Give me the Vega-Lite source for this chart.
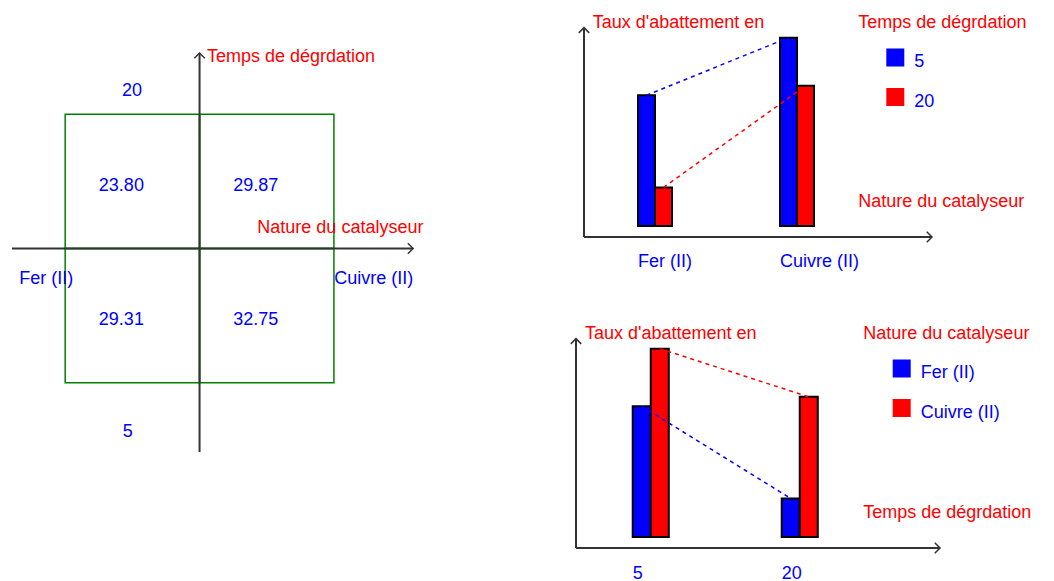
{
  "$schema": "https://vega.github.io/schema/vega-lite/v6.json",
  "background": "white",
  "padding": 0,
  "config": {
    "view": {"stroke": null},
    "font": "Liberation Sans",
    "text": {"font": "Liberation Sans", "fontSize": 18},
    "axisQuantitative": {"disable": true},
    "axis": {
      "domain": false, "ticks": false, "grid": false,
      "labelFont": "Liberation Sans", "labelFontSize": 18, "labelColor": "#0000ff", "labelAngle": 0
    },
    "legend": {
      "orient": "none", "direction": "vertical", "padding": 0,
      "titleFont": "Liberation Sans", "titleFontSize": 18, "titleFontWeight": "normal", "titleColor": "#ff0000", "titleLimit": 400,
      "labelFont": "Liberation Sans", "labelFontSize": 18, "labelColor": "#0000ff", "labelBaseline": "top",
      "symbolType": "square", "symbolSize": 256, "symbolStrokeColor": "black", "symbolStrokeWidth": 2, "symbolOpacity": 1,
      "titlePadding": 16.5, "rowPadding": 13.5, "labelOffset": 10
    }
  },
  "datasets": {
    "essais": [
      {"catalyseur": "Fer (II)", "temps": 5, "taux": 29.31},
      {"catalyseur": "Fer (II)", "temps": 20, "taux": 23.80},
      {"catalyseur": "Cuivre (II)", "temps": 5, "taux": 32.75},
      {"catalyseur": "Cuivre (II)", "temps": 20, "taux": 29.87}
    ]
  },
  "bounds": "flush",
  "spacing": 146,
  "hconcat": [
    {
      "width": 430,
      "height": 470,
      "layer": [
        {
          "data": {"name": "essais"},
          "encoding": {
            "x": {"field": "catalyseur", "type": "nominal", "axis": null,
                  "scale": {"domain": ["Fer (II)", "Cuivre (II)"], "paddingInner": 0, "paddingOuter": 0.6, "align": 0.4042}},
            "y": {"field": "temps", "type": "ordinal", "axis": null,
                  "scale": {"domain": [20, 5], "paddingInner": 0, "paddingOuter": 0.75, "align": 0.5667}}
          },
          "layer": [
            {"mark": {"type": "rect", "filled": false, "stroke": "#008000", "strokeWidth": 1.5}},
            {"mark": {"type": "text", "color": "#0000ff", "baseline": "alphabetic", "dx": -11, "dy": 9.5},
             "encoding": {"text": {"field": "taux", "type": "quantitative", "format": ".2f"}}}
          ]
        },
        {
          "data": {"values": [{}]},
          "layer": [
            {"mark": {"type": "rule", "color": "#333333", "strokeWidth": 2},
             "encoding": {
               "x": {"datum": -1.396, "type": "quantitative", "scale": {"domain": [-1.485, 1.715], "nice": false, "zero": false}},
               "x2": {"datum": 1.589},
               "y": {"datum": 0, "type": "quantitative", "scale": {"domain": [-1.65, 1.85], "nice": false, "zero": false}}
             }},
            {"mark": {"type": "rule", "color": "#333333", "strokeWidth": 2},
             "encoding": {
               "x": {"datum": 0, "type": "quantitative"},
               "y": {"datum": -1.516, "type": "quantitative"},
               "y2": {"datum": 1.455}
             }},
            {"mark": {"type": "point", "shape": "M-1,-1L0,0L-1,1", "size": 110, "filled": false, "color": "#333333", "strokeWidth": 1.5, "opacity": 1},
             "encoding": {"x": {"datum": 1.589, "type": "quantitative"}, "y": {"datum": 0, "type": "quantitative"}}},
            {"mark": {"type": "point", "shape": "M-1,1L0,0L1,1", "size": 110, "filled": false, "color": "#333333", "strokeWidth": 1.5, "opacity": 1},
             "encoding": {"x": {"datum": 0, "type": "quantitative"}, "y": {"datum": 1.455, "type": "quantitative"}}},
            {"mark": {"type": "text", "text": "Temps de dégrdation", "color": "#ff0000", "align": "left", "baseline": "alphabetic"},
             "encoding": {"x": {"datum": 0.0555, "type": "quantitative"}, "y": {"datum": 1.388, "type": "quantitative"}}},
            {"mark": {"type": "text", "text": "20", "color": "#0000ff", "align": "center", "baseline": "alphabetic"},
             "encoding": {"x": {"datum": -0.503, "type": "quantitative"}, "y": {"datum": 1.135, "type": "quantitative"}}},
            {"mark": {"type": "text", "text": "Nature du catalyseur", "color": "#ff0000", "align": "left", "baseline": "alphabetic"},
             "encoding": {"x": {"datum": 0.43, "type": "quantitative"}, "y": {"datum": 0.115, "type": "quantitative"}}},
            {"mark": {"type": "text", "text": "Fer (II)", "color": "#0000ff", "align": "left", "baseline": "alphabetic"},
             "encoding": {"x": {"datum": -1.341, "type": "quantitative"}, "y": {"datum": -0.265, "type": "quantitative"}}},
            {"mark": {"type": "text", "text": "Cuivre (II)", "color": "#0000ff", "align": "left", "baseline": "alphabetic"},
             "encoding": {"x": {"datum": 1.003, "type": "quantitative"}, "y": {"datum": -0.265, "type": "quantitative"}}},
            {"mark": {"type": "text", "text": "5", "color": "#0000ff", "align": "center", "baseline": "alphabetic"},
             "encoding": {"x": {"datum": -0.535, "type": "quantitative"}, "y": {"datum": -1.404, "type": "quantitative"}}}
          ]
        }
      ],
      "resolve": {"scale": {"x": "independent", "y": "independent"}}
    },
    {
      "vconcat": [
        {
          "width": 348,
          "height": 237,
          "layer": [
            {
              "data": {"values": [{}]},
              "layer": [
                {"mark": {"type": "rule", "color": "#333333", "strokeWidth": 2},
                 "encoding": {
                   "x": {"datum": 0, "type": "quantitative", "scale": {"domain": [0, 1], "nice": false, "zero": false}},
                   "y": {"datum": 20.84, "type": "quantitative"},
                   "y2": {"datum": 33.35}
                 }},
                {"mark": {"type": "rule", "color": "#333333", "strokeWidth": 2},
                 "encoding": {
                   "x": {"datum": 0, "type": "quantitative"},
                   "x2": {"datum": 1},
                   "y": {"datum": 20.84, "type": "quantitative"}
                 }},
                {"mark": {"type": "point", "shape": "M-1,1L0,0L1,1", "size": 110, "filled": false, "color": "#333333", "strokeWidth": 1.5, "opacity": 1},
                 "encoding": {"x": {"datum": 0, "type": "quantitative"}, "y": {"datum": 33.35, "type": "quantitative"}}},
                {"mark": {"type": "point", "shape": "M-1,-1L0,0L-1,1", "size": 110, "filled": false, "color": "#333333", "strokeWidth": 1.5, "opacity": 1},
                 "encoding": {"x": {"datum": 1, "type": "quantitative"}, "y": {"datum": 20.84, "type": "quantitative"}}},
                {"mark": {"type": "text", "text": "Taux d'abattement en", "color": "#ff0000", "align": "left", "baseline": "alphabetic"},
                 "encoding": {"x": {"datum": 0.025, "type": "quantitative"}, "y": {"datum": 33.35, "type": "quantitative"}}},
                {"mark": {"type": "text", "text": "Nature du catalyseur", "color": "#ff0000", "align": "left", "baseline": "alphabetic"},
                 "encoding": {"x": {"datum": 0.788, "type": "quantitative"}, "y": {"datum": 22.66, "type": "quantitative"}}}
              ]
            },
            {
              "data": {"name": "essais"},
              "encoding": {
                "x": {"field": "catalyseur", "type": "nominal", "title": null,
                      "scale": {"domain": ["Fer (II)", "Cuivre (II)"], "paddingInner": 0.7606, "paddingOuter": 0.6056, "align": 0.314},
                      "axis": {"labelAlign": "left", "labelOffset": -17, "labelBaseline": "alphabetic", "labelPadding": 29}},
                "xOffset": {"field": "temps", "type": "nominal", "scale": {"domain": [5, 20], "paddingInner": 0}},
                "y": {"field": "taux", "type": "quantitative", "scale": {"domain": [20.84, 35], "nice": false, "zero": false}}
              },
              "layer": [
                {"mark": {"type": "bar", "stroke": "black", "strokeWidth": 2},
                 "encoding": {
                   "y2": {"datum": 21.5},
                   "stroke": {"value": "black"},
                   "fill": {"field": "temps", "type": "nominal",
                            "scale": {"domain": [5, 20], "range": ["#0000ff", "#ff0000"]},
                            "legend": {"title": "Temps de dégrdation", "legendX": 274.3, "legendY": 14, "symbolOffset": 28,
                                       "encode": {
                                         "symbols": {"update": {"stroke": {"value": "black"}, "strokeWidth": {"value": 2}}},
                                         "labels": {"update": {"dy": {"value": -4.5}}}
                                       }}}
                 }},
                {"mark": {"type": "line", "strokeDash": [4, 4], "strokeWidth": 1.5},
                 "encoding": {
                   "stroke": {"field": "temps", "type": "nominal",
                              "scale": {"domain": [5, 20], "range": ["#0000ff", "#ff0000"]}, "legend": null}
                 }}
              ]
            }
          ],
          "resolve": {"scale": {"x": "independent"}}
        },
        {
          "width": 364,
          "height": 237,
          "layer": [
            {
              "data": {"values": [{}]},
              "layer": [
                {"mark": {"type": "rule", "color": "#333333", "strokeWidth": 2},
                 "encoding": {
                   "x": {"datum": 0, "type": "quantitative", "scale": {"domain": [0, 1], "nice": false, "zero": false}},
                   "y": {"datum": 20.84, "type": "quantitative"},
                   "y2": {"datum": 33.35}
                 }},
                {"mark": {"type": "rule", "color": "#333333", "strokeWidth": 2},
                 "encoding": {
                   "x": {"datum": 0, "type": "quantitative"},
                   "x2": {"datum": 1},
                   "y": {"datum": 20.84, "type": "quantitative"}
                 }},
                {"mark": {"type": "point", "shape": "M-1,1L0,0L1,1", "size": 110, "filled": false, "color": "#333333", "strokeWidth": 1.5, "opacity": 1},
                 "encoding": {"x": {"datum": 0, "type": "quantitative"}, "y": {"datum": 33.35, "type": "quantitative"}}},
                {"mark": {"type": "point", "shape": "M-1,-1L0,0L-1,1", "size": 110, "filled": false, "color": "#333333", "strokeWidth": 1.5, "opacity": 1},
                 "encoding": {"x": {"datum": 1, "type": "quantitative"}, "y": {"datum": 20.84, "type": "quantitative"}}},
                {"mark": {"type": "text", "text": "Taux d'abattement en", "color": "#ff0000", "align": "left", "baseline": "alphabetic"},
                 "encoding": {"x": {"datum": 0.0247, "type": "quantitative"}, "y": {"datum": 33.35, "type": "quantitative"}}},
                {"mark": {"type": "text", "text": "Temps de dégrdation", "color": "#ff0000", "align": "left", "baseline": "alphabetic"},
                 "encoding": {"x": {"datum": 0.789, "type": "quantitative"}, "y": {"datum": 22.65, "type": "quantitative"}}}
              ]
            },
            {
              "data": {"name": "essais"},
              "encoding": {
                "x": {"field": "temps", "type": "ordinal", "title": null,
                      "scale": {"domain": [5, 20], "paddingInner": 0.758, "paddingOuter": 0.6005, "align": 0.317},
                      "axis": {"labelAlign": "left", "labelOffset": -18, "labelBaseline": "alphabetic", "labelPadding": 30}},
                "xOffset": {"field": "catalyseur", "type": "nominal", "scale": {"domain": ["Fer (II)", "Cuivre (II)"], "paddingInner": 0}},
                "y": {"field": "taux", "type": "quantitative", "scale": {"domain": [20.84, 35], "nice": false, "zero": false}}
              },
              "layer": [
                {"mark": {"type": "bar", "stroke": "black", "strokeWidth": 2},
                 "encoding": {
                   "y2": {"datum": 21.5},
                   "stroke": {"value": "black"},
                   "fill": {"field": "catalyseur", "type": "nominal",
                            "scale": {"domain": ["Fer (II)", "Cuivre (II)"], "range": ["#0000ff", "#ff0000"]},
                            "legend": {"title": "Nature du catalyseur", "legendX": 287.3, "legendY": 14, "symbolOffset": 29.4,
                                       "encode": {
                                         "symbols": {"update": {"stroke": {"value": "black"}, "strokeWidth": {"value": 2}}},
                                         "labels": {"update": {"dy": {"value": -4.5}}}
                                       }}}
                 }},
                {"mark": {"type": "line", "strokeDash": [4, 4], "strokeWidth": 1.5},
                 "encoding": {
                   "stroke": {"field": "catalyseur", "type": "nominal",
                              "scale": {"domain": ["Fer (II)", "Cuivre (II)"], "range": ["#0000ff", "#ff0000"]}, "legend": null}
                 }}
              ]
            }
          ],
          "resolve": {"scale": {"x": "independent"}}
        }
      ],
      "spacing": 74,
      "center": true,
      "bounds": "flush",
      "resolve": {
        "scale": {"xOffset": "independent", "fill": "independent", "stroke": "independent"},
        "legend": {"fill": "independent"}
      }
    }
  ]
}
